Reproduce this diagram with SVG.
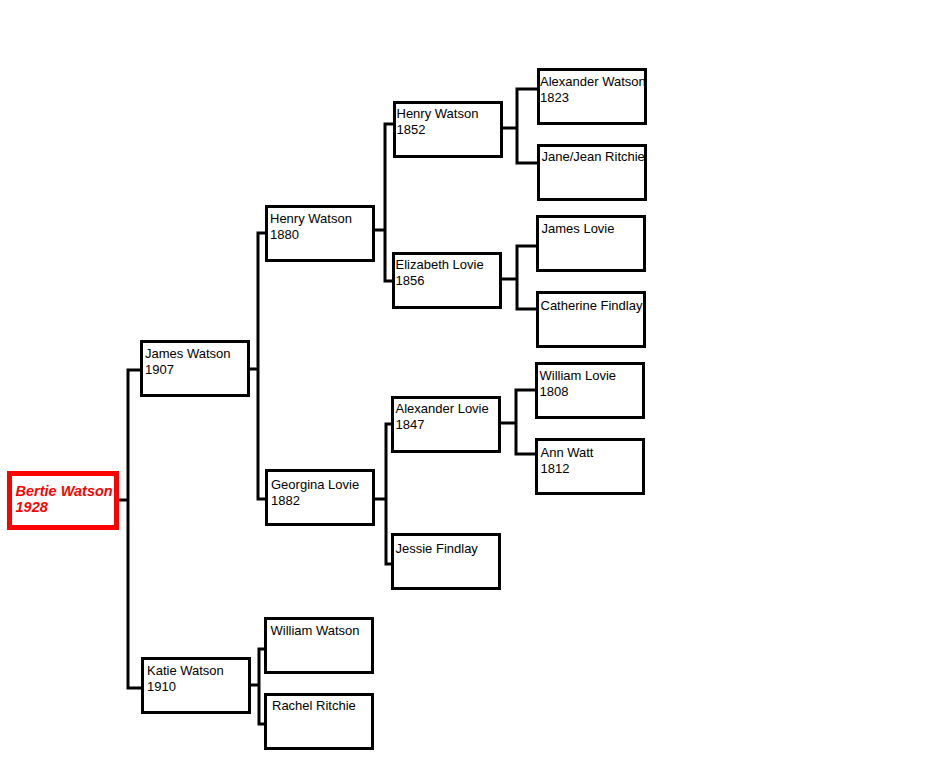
<svg xmlns="http://www.w3.org/2000/svg" width="946" height="770" viewBox="0 0 946 770">
<style>
.box{fill:#fff;stroke:#000;stroke-width:3}
.root{fill:#fff;stroke:#f00;stroke-width:5}
.t{font-family:"Liberation Sans",Arial,sans-serif;font-size:13px;fill:#000}
.rt{font-family:"Liberation Sans",Arial,sans-serif;font-size:14.5px;font-weight:bold;font-style:italic;fill:#f00}
.c{fill:none;stroke:#000;stroke-width:3;stroke-linejoin:miter}
</style>
<rect width="946" height="770" fill="#fff"/>
<g id="connectors">
<path class="c" d="M119,500H128M140,370H128V688H141"/>
<path class="c" d="M250,369H258M265,233H258V499H265"/>
<path class="c" d="M251,685H259M264,649H259V724H264"/>
<path class="c" d="M375,230H385M393,124H385V281H392"/>
<path class="c" d="M375,499H386M391,424H386V564H391"/>
<path class="c" d="M503,128H517M537,89H517V163H537"/>
<path class="c" d="M502,279H517M536,246H517V309H536"/>
<path class="c" d="M501,423H516M535,390H516V454H535"/>
</g>
<g id="bertie">
<rect class="root" x="9.5" y="473.5" width="107" height="54"/>
<text class="rt" x="15.5" y="495.5">Bertie Watson</text>
<text class="rt" x="15.5" y="511.5">1928</text>
</g>
<g id="james">
<rect class="box" x="141.5" y="341.5" width="107" height="54"/>
<text class="t" x="145" y="357.5">James Watson</text>
<text class="t" x="145" y="373.5">1907</text>
</g>
<g id="katie">
<rect class="box" x="142.5" y="658.5" width="107" height="54"/>
<text class="t" x="147" y="675">Katie Watson</text>
<text class="t" x="147" y="691">1910</text>
</g>
<g id="henry1880">
<rect class="box" x="266.5" y="206.5" width="107" height="54"/>
<text class="t" x="270" y="222.5">Henry Watson</text>
<text class="t" x="270" y="238.5">1880</text>
</g>
<g id="georgina">
<rect class="box" x="266.5" y="470.5" width="107" height="54"/>
<text class="t" x="271" y="488.5">Georgina Lovie</text>
<text class="t" x="271" y="504.5">1882</text>
</g>
<g id="williamwatson">
<rect class="box" x="265.5" y="618.5" width="107" height="54"/>
<text class="t" x="270.5" y="635">William Watson</text>
</g>
<g id="rachel">
<rect class="box" x="265.5" y="694.5" width="107" height="54"/>
<text class="t" x="272" y="710">Rachel Ritchie</text>
</g>
<g id="henry1852">
<rect class="box" x="394.5" y="102.5" width="107" height="54"/>
<text class="t" x="396.5" y="117.5">Henry Watson</text>
<text class="t" x="396.5" y="133.5">1852</text>
</g>
<g id="elizabeth">
<rect class="box" x="393.5" y="253.5" width="107" height="54"/>
<text class="t" x="395.5" y="268.5">Elizabeth Lovie</text>
<text class="t" x="395.5" y="284.5">1856</text>
</g>
<g id="alexanderlovie">
<rect class="box" x="392.5" y="397.5" width="107" height="54"/>
<text class="t" x="395.5" y="412.5">Alexander Lovie</text>
<text class="t" x="395.5" y="428.5">1847</text>
</g>
<g id="jessie">
<rect class="box" x="392.5" y="534.5" width="107" height="54"/>
<text class="t" x="395.5" y="552.5">Jessie Findlay</text>
</g>
<g id="alexanderwatson">
<rect class="box" x="538.5" y="69.5" width="107" height="54"/>
<text class="t" x="540" y="86">Alexander Watson</text>
<text class="t" x="540" y="102">1823</text>
</g>
<g id="jane">
<rect class="box" x="538.5" y="145.5" width="107" height="54"/>
<text class="t" x="541.5" y="160.5">Jane/Jean Ritchie</text>
</g>
<g id="jameslovie">
<rect class="box" x="537.5" y="216.5" width="107" height="54"/>
<text class="t" x="541.5" y="232.5">James Lovie</text>
</g>
<g id="catherine">
<rect class="box" x="537.5" y="292.5" width="107" height="54"/>
<text class="t" x="540.5" y="309.5">Catherine Findlay</text>
</g>
<g id="williamlovie">
<rect class="box" x="536.5" y="363.5" width="107" height="54"/>
<text class="t" x="539.5" y="380">William Lovie</text>
<text class="t" x="539.5" y="396">1808</text>
</g>
<g id="annwatt">
<rect class="box" x="536.5" y="439.5" width="107" height="54"/>
<text class="t" x="540.5" y="456.5">Ann Watt</text>
<text class="t" x="540.5" y="472.5">1812</text>
</g>
</svg>
